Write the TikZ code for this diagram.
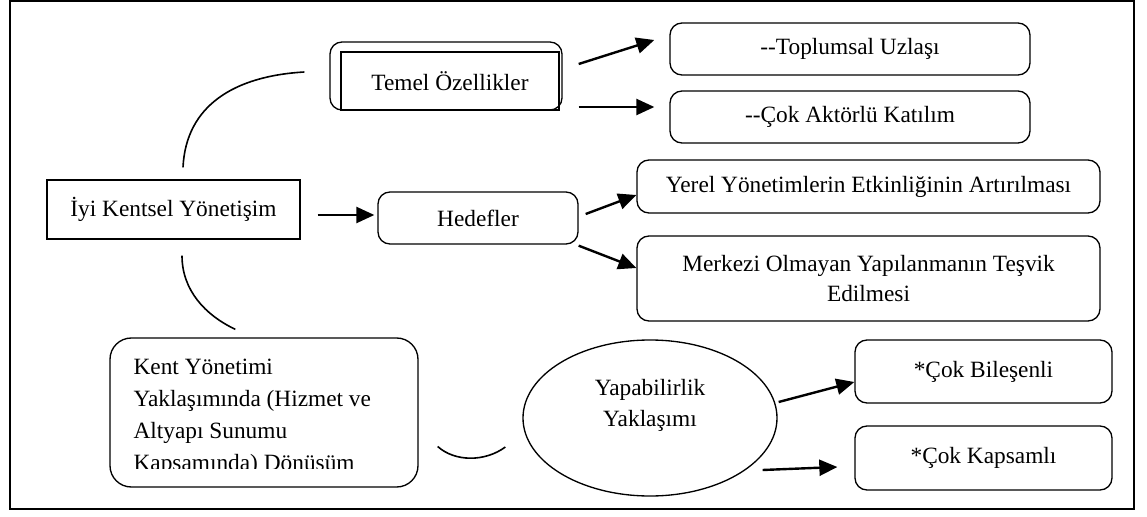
\documentclass[tikz,border=0pt]{standalone}
\usepackage{fontspec}
\setmainfont{Liberation Serif}
\usetikzlibrary{arrows.meta,calc,shapes.geometric}
\begin{document}
\begin{tikzpicture}[x=0.75pt,y=-0.75pt,
  every node/.style={font=\fontsize{17.5}{23}\selectfont},
  rbox/.style={draw, line width=1pt, rounded corners=9pt, inner sep=2pt, align=center},
  sbox/.style={draw, line width=1pt, inner sep=2pt, align=center},
  arr/.style={line width=1.8pt, -{Triangle[length=13.5pt,width=12pt]}},
  link/.style={line width=1.2pt}
]
\useasboundingbox (0,0) rectangle (1147,517);
\draw[line width=1.5pt] (9.5,1.5) rectangle (1133.5,509);

% nodes
\node[rbox, minimum width=174pt, minimum height=51pt] (temelout) at (446,76) {};
\node[sbox, minimum width=163.5pt, minimum height=43.5pt] (temel) at (450,81) {Temel Özellikler};
\node[rbox, minimum width=270pt, minimum height=39pt] (topl) at (850,49) {-{}-Toplumsal Uzlaşı};
\node[rbox, minimum width=270pt, minimum height=39pt] (aktor) at (850,117) {-{}-Çok Aktörlü Katılım};
\node[rbox, minimum width=347.25pt, minimum height=39.75pt] (yerel) at (868.5,186.5) {Yerel Yönetimlerin Etkinliğinin Artırılması};
\node[rbox, minimum width=347.25pt, minimum height=63.75pt] (merk) at (868.5,278.5) {Merkezi Olmayan Yapılanmanın Teşvik\\Edilmesi};
\node[rbox, minimum width=150pt, minimum height=39pt] (hedef) at (478,218) {Hedefler};
\node[sbox, minimum width=189.75pt, minimum height=44.25pt] (iyi) at (173.5,209.5) {İyi Kentsel Yönetişim};
\node[draw, line width=1pt, rounded corners=16pt, minimum width=231pt, minimum height=111.75pt] (kent) at (264,412.5) {};
\begin{scope}
  \clip ($(kent.north west)+(2,2)$) rectangle ($(kent.south east)+(-2,-19)$);
  \node[anchor=north west, align=left, inner sep=0pt, font=\fontsize{17.5}{24}\selectfont] (kenttext) at ($(kent.north west)+(24,21)$) {Kent Yönetimi\\Yaklaşımında (Hizmet ve\\Altyapı Sunumu\\Kapsamında) Dönüşüm};
\end{scope}
\node[draw, ellipse, line width=1pt, minimum width=190.5pt, minimum height=117pt, inner sep=0pt, align=center, font=\fontsize{17.5}{23.25}\selectfont] (yap) at (650,418) {Yapabilirlik\\Yaklaşımı\\\mbox{}};
\node[rbox, minimum width=192.75pt, minimum height=47.25pt] (bil) at (983.5,371.5) {*Çok Bileşenli};
\node[rbox, minimum width=192.75pt, minimum height=48pt] (kap) at (983.5,458) {*Çok Kapsamlı};

% arrows
\draw[arr] ($(temelout.east)+(16,-12)$) -- ($(topl.west)+(-15,-9)$);
\draw[arr] ($(temelout.east)+(16,31)$) -- ($(aktor.west)+(-15,-10)$);
\draw[arr] ($(iyi.east)+(17,5.5)$) -- ($(hedef.west)+(-3,-3)$);
\draw[arr] ($(hedef.east)+(7,-4)$) -- ($(yerel.west)+(0,8.5)$);
\draw[arr] ($(hedef.south east)+(0,1)$) -- ($(merk.west)+(0,-10.5)$);
\draw[arr] ($(yap.east)+(1,-16)$) -- ($(bil.west)+(0,10.5)$);
\draw[arr] ($(yap.east)+(-15,52)$) -- ($(kap.west)+(-17,9)$);

% curved links
\draw[link] ($(iyi.north)+(9.5,-12)$) .. controls (186,105) and (235,76) .. ($(temelout.west)+(-25,-4)$);
\draw[link] ($(iyi.south)+(8.5,16)$) .. controls (182,290) and (205,315) .. ($(kent.north west)+(126,-8)$);
\draw[link] ($(kent.east)+(19,34)$) .. controls (455,462) and (485,462) .. ($(yap.west)+(-17,29)$);
\end{tikzpicture}
\end{document}
